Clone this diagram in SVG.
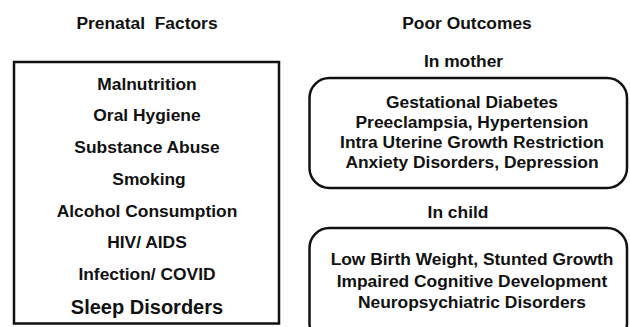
<svg xmlns="http://www.w3.org/2000/svg" width="630" height="327" viewBox="0 0 630 327">
<style>
text{font-family:"Liberation Sans",Arial,sans-serif;font-weight:bold;fill:#111;text-anchor:middle;font-size:17.4px}
.big{font-size:20px}
.box{fill:none;stroke:#111;stroke-width:2.5}
</style>
<rect width="630" height="327" fill="#fff"/>
<g id="heading-left"><text x="147" y="29" xml:space="preserve">Prenatal  Factors</text></g>
<g id="heading-right"><text x="467" y="29">Poor Outcomes</text></g>
<g id="factors">
<rect class="box" x="14" y="62" width="265" height="261.5"/>
<text x="147" y="89.5">Malnutrition</text>
<text x="147" y="121">Oral Hygiene</text>
<text x="147" y="153">Substance Abuse</text>
<text x="149" y="185">Smoking</text>
<text x="147" y="216.5">Alcohol Consumption</text>
<text x="147" y="248">HIV/ AIDS</text>
<text x="147" y="279.5">Infection/ COVID</text>
<text class="big" x="147" y="314">Sleep Disorders</text>
</g>
<g id="mother">
<text x="463.5" y="67">In mother</text>
<rect class="box" x="309.5" y="78" width="317.5" height="110" rx="20" ry="20"/>
<text x="472" y="108">Gestational Diabetes</text>
<text x="472" y="128">Preeclampsia, Hypertension</text>
<text x="472" y="148">Intra Uterine Growth Restriction</text>
<text x="472" y="168">Anxiety Disorders, Depression</text>
</g>
<g id="child">
<text x="458" y="218">In child</text>
<rect class="box" x="309.5" y="228" width="317.5" height="115" rx="20" ry="20"/>
<text x="472" y="265">Low Birth Weight, Stunted Growth</text>
<text x="472" y="286.5">Impaired Cognitive Development</text>
<text x="472" y="307.5">Neuropsychiatric Disorders</text>
</g>
<g id="connectors"></g>
</svg>
